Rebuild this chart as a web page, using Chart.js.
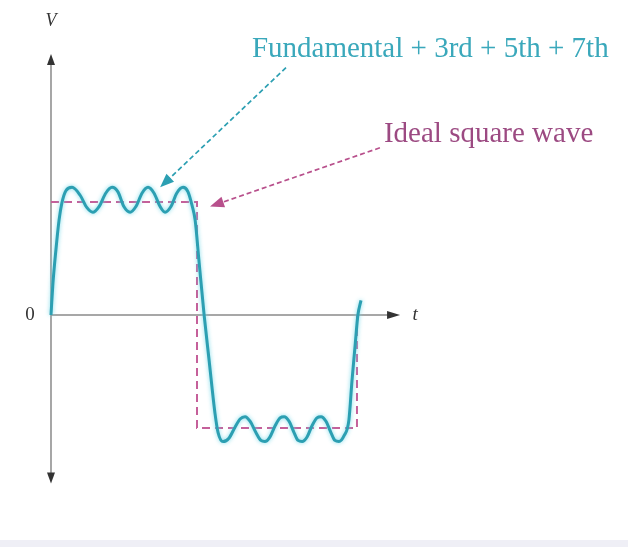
<!DOCTYPE html>
<html>
<head>
<meta charset="utf-8">
<script src="https://cdn.jsdelivr.net/npm/chart.js@4.4.0/dist/chart.umd.min.js"></script>
<style>
html, body { margin: 0; padding: 0; background: #fff; }
canvas { display: block; }
</style>
</head>
<body>
<canvas id="myChart" width="628" height="547"></canvas>
<script>
// Fundamental + 3rd + 5th + 7th (t in ms, V in units of the square wave height)
var sumTime = [0, 0.06, 0.16, 0.26, 0.35, 0.48, 0.68, 0.94, 1.16, 1.35, 1.55, 1.77, 1.97, 2.16, 2.35, 2.55,
  2.74, 2.94, 3.13, 3.32, 3.52, 3.68, 3.87, 4.06, 4.26, 4.42, 4.55, 4.65, 4.77, 4.94, 5.10, 5.29, 5.39,
  5.55, 5.74, 5.94, 6.10, 6.26, 6.42, 6.61, 6.77, 6.90, 7.06, 7.23, 7.39, 7.52, 7.68, 7.84, 7.97, 8.10,
  8.26, 8.42, 8.58, 8.71, 8.87, 9.03, 9.16, 9.29, 9.45, 9.61, 9.71, 9.81, 9.90, 10.0];
var sumVolts = [0, 0.27, 0.58, 0.84, 0.99, 1.10, 1.13, 1.06, 0.95, 0.91, 0.96, 1.08, 1.13, 1.09, 0.96, 0.91,
  0.96, 1.08, 1.13, 1.08, 0.96, 0.91, 0.96, 1.08, 1.13, 1.09, 0.97, 0.84, 0.49, 0, -0.40, -0.87, -1.04,
  -1.12, -1.09, -0.99, -0.92, -0.90, -0.94, -1.04, -1.11, -1.12, -1.08, -0.98, -0.91, -0.90, -0.94, -1.04, -1.11, -1.12,
  -1.08, -0.98, -0.91, -0.90, -0.94, -1.04, -1.11, -1.12, -1.07, -0.93, -0.58, -0.27, 0, 0.13];

// ideal square wave
var squareTime = [0, 4.71, 4.71, 9.87, 9.87];
var squareVolts = [1, 1, -1, -1, 0];

// axis labels and callouts
var axisLabels = { vertical: 'V', horizontal: 't', origin: '0' };
var sumLabel = 'Fundamental + 3rd + 5th + 7th';
var squareLabel = 'Ideal square wave';

function toPoints(xs, ys) {
  return xs.map(function (x, i) { return { x: x, y: ys[i] }; });
}

var teal = '#2c9fb2';
var pink = '#c5609a';

function arrow(ctx, x1, y1, x2, y2, color) {
  var ang = Math.atan2(y2 - y1, x2 - x1);
  ctx.save();
  ctx.strokeStyle = color;
  ctx.lineWidth = 1.7;
  ctx.setLineDash([5, 3]);
  ctx.beginPath();
  ctx.moveTo(x1, y1);
  ctx.lineTo(x2 - 8 * Math.cos(ang), y2 - 8 * Math.sin(ang));
  ctx.stroke();
  ctx.setLineDash([]);
  ctx.fillStyle = color;
  ctx.beginPath();
  ctx.moveTo(x2, y2);
  ctx.lineTo(x2 - 14 * Math.cos(ang) + 5.5 * Math.sin(ang), y2 - 14 * Math.sin(ang) - 5.5 * Math.cos(ang));
  ctx.lineTo(x2 - 14 * Math.cos(ang) - 5.5 * Math.sin(ang), y2 - 14 * Math.sin(ang) + 5.5 * Math.cos(ang));
  ctx.closePath();
  ctx.fill();
  ctx.restore();
}

function head(ctx, x, y, dir) {
  // dir: 'up', 'down', 'right'
  ctx.save();
  ctx.fillStyle = '#333';
  ctx.beginPath();
  if (dir === 'up') { ctx.moveTo(x, y); ctx.lineTo(x - 4, y + 11); ctx.lineTo(x + 4, y + 11); }
  if (dir === 'down') { ctx.moveTo(x, y); ctx.lineTo(x - 4, y - 11); ctx.lineTo(x + 4, y - 11); }
  if (dir === 'right') { ctx.moveTo(x, y); ctx.lineTo(x - 13, y - 4); ctx.lineTo(x - 13, y + 4); }
  ctx.closePath();
  ctx.fill();
  ctx.restore();
}

var sketch = {
  id: 'sketch',
  beforeDatasetsDraw: function (chart) {
    var ctx = chart.ctx, sx = chart.scales.x, sy = chart.scales.y;
    var x0 = sx.getPixelForValue(0), y0 = sy.getPixelForValue(0);
    var top = sy.getPixelForValue(2.31), bottom = sy.getPixelForValue(-1.49);
    var right = sx.getPixelForValue(11.26);
    ctx.save();
    ctx.strokeStyle = '#8a8a8a';
    ctx.lineWidth = 1.5;
    ctx.beginPath();
    ctx.moveTo(x0, top + 6); ctx.lineTo(x0, bottom - 6);
    ctx.moveTo(x0, y0); ctx.lineTo(right - 8, y0);
    ctx.stroke();
    ctx.restore();
    head(ctx, x0, top, 'up');
    head(ctx, x0, bottom, 'down');
    head(ctx, right, y0, 'right');
  },
  beforeDatasetDraw: function (chart, args) {
    if (args.index === 0) {
      chart.ctx.save();
      chart.ctx.shadowColor = 'rgba(110, 215, 232, 0.9)';
      chart.ctx.shadowBlur = 4;
    }
  },
  afterDatasetDraw: function (chart, args) {
    if (args.index === 0) chart.ctx.restore();
  },
  afterDatasetsDraw: function (chart) {
    var ctx = chart.ctx, sx = chart.scales.x, sy = chart.scales.y;
    var X = function (v) { return sx.getPixelForValue(v); };
    var Y = function (v) { return sy.getPixelForValue(v); };
    ctx.save();
    ctx.textBaseline = 'middle';
    ctx.fillStyle = '#333';
    ctx.font = 'italic 18px "Liberation Serif"';
    ctx.textAlign = 'center';
    ctx.fillText(axisLabels.vertical, X(0), Y(2.60));
    ctx.font = 'italic 19px "Liberation Serif"';
    ctx.fillText(axisLabels.horizontal, X(11.75), Y(0));
    ctx.font = '19px "Liberation Serif"';
    ctx.fillText(axisLabels.origin, X(-0.68), Y(0));

    ctx.textAlign = 'left';
    ctx.font = '29px "Liberation Serif"';
    ctx.fillStyle = '#3aa8bb';
    ctx.fillText(sumLabel, X(6.48), Y(2.35));
    ctx.fillStyle = '#9c4a82';
    ctx.fillText(squareLabel, X(10.74), Y(1.60));
    ctx.restore();

    arrow(ctx, X(7.58), Y(2.19), X(3.52), Y(1.13), teal);
    arrow(ctx, X(10.61), Y(1.48), X(5.13), Y(0.96), '#b8508c');

    // faint strip at the bottom edge
    ctx.save();
    ctx.fillStyle = '#efeff6';
    ctx.fillRect(0, chart.height - 7, chart.width, 7);
    ctx.restore();
  }
};

var ctx = document.getElementById('myChart').getContext('2d');
var myChart = new Chart(ctx, {
  type: 'line',
  data: {
    datasets: [{
      label: sumLabel,
      data: toPoints(sumTime, sumVolts),
      borderColor: teal,
      borderWidth: 3,
      pointRadius: 0,
      cubicInterpolationMode: 'monotone',
      fill: false
    }, {
      label: squareLabel,
      data: toPoints(squareTime, squareVolts),
      borderColor: pink,
      borderWidth: 2,
      borderDash: [8, 5],
      pointRadius: 0,
      tension: 0,
      fill: false
    }]
  },
  options: {
    responsive: false,
    animation: false,
    layout: { padding: 0 },
    scales: {
      x: { type: 'linear', min: -1.645, max: 18.613, display: false },
      y: { type: 'linear', min: -2.053, max: 2.788, display: false }
    },
    plugins: {
      legend: { display: false },
      tooltip: { enabled: false }
    }
  },
  plugins: [sketch]
});
</script>
</body>
</html>
